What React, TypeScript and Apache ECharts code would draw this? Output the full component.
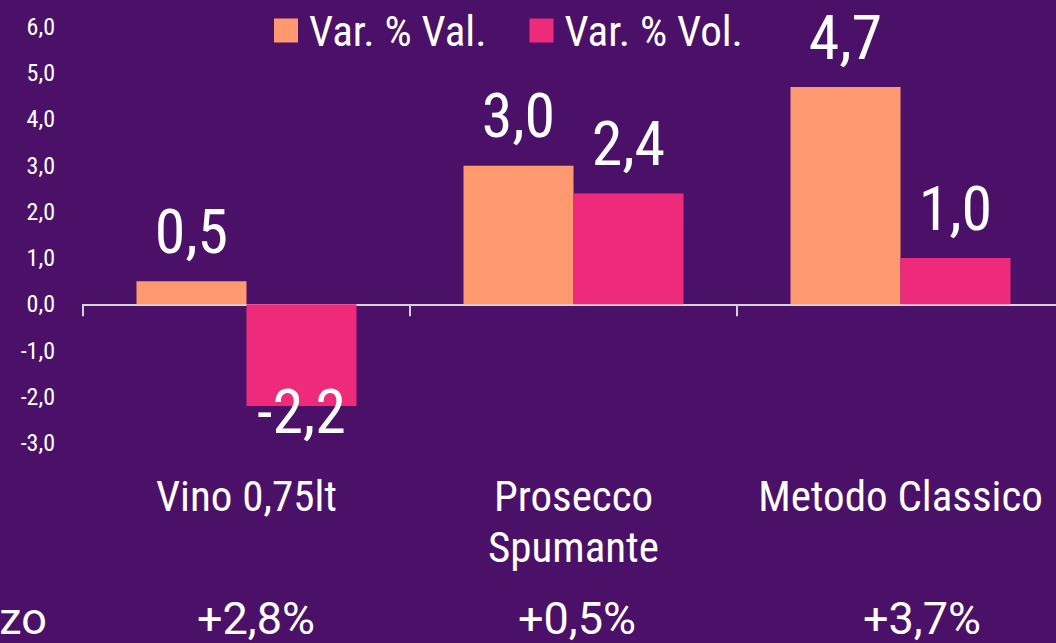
import React, { useEffect, useRef } from "react";
import * as echarts from "echarts";

const categories = ["Vino 0,75lt", "Prosecco\nSpumante", "Metodo Classico"];
const varVal = [0.5, 3.0, 4.7];
const varVol = [-2.2, 2.4, 1.0];
const seriesNames = ["Var. % Val.", "Var. % Vol."];
const priceTitle = "Prezzo";
const priceVar = ["+2,8%", "+0,5%", "+3,7%"];

const FONT = "'Roboto Condensed', Roboto, sans-serif";
const FONT_REG = "Roboto, sans-serif";
const BG = "#4B1169";
const ORANGE = "#FF9A70";
const PINK = "#EE2A7B";

const fmt = (v: number) => v.toFixed(1).replace(".", ",");

export default function App() {
  const ref = useRef<HTMLDivElement>(null);
  useEffect(() => {
    if (!ref.current) return;
    const chart = echarts.init(ref.current, undefined, { renderer: "svg" });
    const valueLabel = {
      show: true,
      position: "top",
      distance: 19,
      color: "#fff",
      fontSize: 62,
      fontFamily: FONT,
      formatter: (p: any) => fmt(p.value),
    };
    const mkData = (arr: number[]) =>
      arr.map((v) =>
        v < 0
          ? { value: v, label: { position: "bottom", distance: 0, offset: [0, -26] } }
          : { value: v }
      );
    const priceX = [256, 577, 922];
    chart.setOption({
      animation: false,
      backgroundColor: BG,
      textStyle: { fontFamily: FONT },
      legend: {
        left: 269,
        top: 4,
        itemWidth: 24,
        itemHeight: 24,
        itemGap: 43,
        icon: "rect",
        textStyle: { color: "#fff", fontSize: 43, fontFamily: FONT, padding: [0, 0, 0, 6] },
        data: seriesNames,
      },
      grid: {
        left: 83,
        right: -8,
        top: 27,
        bottom: 200,
        containLabel: false,
        outerBoundsMode: "none",
      },
      xAxis: {
        type: "category",
        data: categories,
        axisLine: { show: true, onZero: true, lineStyle: { color: "#D4D4D4", width: 2 } },
        axisTick: { show: true, length: 12, lineStyle: { color: "#D4D4D4", width: 2 } },
        axisLabel: {
          color: "#fff",
          fontSize: 43,
          lineHeight: 51,
          fontFamily: FONT,
          margin: 27,
          interval: 0,
        },
      },
      yAxis: {
        type: "value",
        min: -3,
        max: 6,
        interval: 1,
        axisLine: { show: false },
        axisTick: { show: false },
        splitLine: { show: false },
        axisLabel: {
          color: "#fff",
          fontSize: 24,
          fontFamily: FONT,
          margin: 28,
          formatter: (v: number) => fmt(v),
        },
      },
      series: [
        {
          name: seriesNames[0],
          type: "bar",
          data: mkData(varVal),
          barWidth: 110,
          barGap: "0%",
          itemStyle: { color: ORANGE },
          label: valueLabel,
        },
        {
          name: seriesNames[1],
          type: "bar",
          data: mkData(varVol),
          barWidth: 110,
          barGap: "0%",
          itemStyle: { color: PINK },
          label: valueLabel,
        },
      ],
      graphic: [
        {
          type: "text",
          x: 47,
          y: 618,
          style: {
            text: priceTitle,
            fill: "#fff",
            fontSize: 45,
            fontFamily: FONT_REG,
            align: "right",
            verticalAlign: "middle",
          },
        },
        ...priceVar.map((t, i) => ({
          type: "text",
          x: priceX[i],
          y: 618,
          style: {
            text: t,
            fill: "#fff",
            fontSize: 45,
            fontFamily: FONT_REG,
            align: "center",
            verticalAlign: "middle",
          },
        })),
      ],
    });
    return () => chart.dispose();
  }, []);
  return (
    <div
      ref={ref}
      style={{ position: "fixed", left: 0, top: 0, width: 1056, height: 643 }}
    />
  );
}
